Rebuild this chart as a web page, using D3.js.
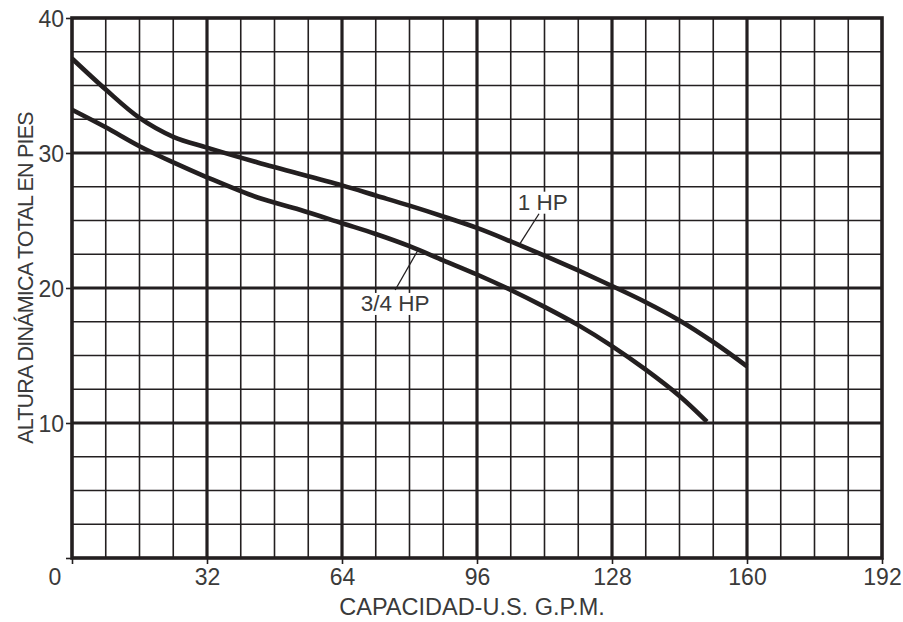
<!DOCTYPE html>
<html>
<head>
<meta charset="utf-8">
<script src="https://cdn.jsdelivr.net/npm/d3@7"></script>
<style>
html,body{margin:0;padding:0;background:#fff;}
svg{display:block;}
text{font-family:"Liberation Sans","Helvetica","Arial",sans-serif;fill:#3a3a3a;}
</style>
</head>
<body>
<svg id="chart" width="903" height="622"></svg>
<script>
// ---- data ----
const xTicks = [32, 64, 96, 128, 160, 192];
const yTicks = [10, 20, 30, 40];
const xTitle = "CAPACIDAD-U.S. G.P.M.";
const yTitle = "ALTURA DINÁMICA TOTAL EN PIES";
const seriesNames = ["1 HP", "3/4 HP"];
const hp1X = [0, 8, 16, 24, 32, 44, 64, 72, 80, 88, 96, 104, 112, 120, 128, 136, 144, 152, 160];
const hp1Y = [37.0, 34.7, 32.6, 31.2, 30.4, 29.3, 27.6, 26.85, 26.1, 25.3, 24.45, 23.45, 22.4, 21.3, 20.15, 18.95, 17.6, 16.0, 14.2];
const hp34X = [0, 8, 16, 24, 32, 44, 54, 64, 72, 80, 88, 96, 104, 112, 120, 128, 136, 144, 150.5];
const hp34Y = [33.2, 31.9, 30.5, 29.3, 28.2, 26.7, 25.8, 24.8, 24.0, 23.1, 22.05, 21.0, 19.85, 18.6, 17.25, 15.7, 13.95, 12.0, 10.1];

// ---- layout ----
const W = 903, H = 622;
const m = {left: 72, right: 21, top: 18, bottom: 64};
const svg = d3.select("#chart");
const x = d3.scaleLinear().domain([0, 192]).range([m.left, W - m.right]);
const y = d3.scaleLinear().domain([0, 40]).range([H - m.bottom, m.top]);
const ink = "#231f20";
const txtCol = "#3a3a3a";
const FONT = '"Liberation Sans",Arial,sans-serif';

const g = svg.append("g");

// minor grid
const minorX = d3.range(8, 192, 8).filter(v => v % 32 !== 0);
const minorY = d3.range(2.5, 40, 2.5).filter(v => v % 10 !== 0);
g.selectAll("line.mx").data(minorX).join("line")
  .attr("x1", d => x(d)).attr("x2", d => x(d))
  .attr("y1", y(0)).attr("y2", y(40))
  .attr("stroke", ink).attr("stroke-width", 1.6);
g.selectAll("line.my").data(minorY).join("line")
  .attr("y1", d => y(d)).attr("y2", d => y(d))
  .attr("x1", x(0)).attr("x2", x(192))
  .attr("stroke", ink).attr("stroke-width", 1.6);

// major grid
g.selectAll("line.Mx").data(xTicks.filter(v => v < 192)).join("line")
  .attr("x1", d => x(d)).attr("x2", d => x(d))
  .attr("y1", y(0)).attr("y2", y(40))
  .attr("stroke", ink).attr("stroke-width", 3.2);
g.selectAll("line.My").data(yTicks.filter(v => v < 40)).join("line")
  .attr("y1", d => y(d)).attr("y2", d => y(d))
  .attr("x1", x(0)).attr("x2", x(192))
  .attr("stroke", ink).attr("stroke-width", 3.2);

// border
g.append("rect")
  .attr("x", x(0)).attr("y", y(40))
  .attr("width", x(192) - x(0)).attr("height", y(0) - y(40))
  .attr("fill", "none").attr("stroke", ink).attr("stroke-width", 3.6);

// axes ticks via d3 axes
const xAxis = d3.axisBottom(x).tickValues([0].concat(xTicks)).tickSize(6).tickFormat(d => d === 0 ? "" : d);
const gx = svg.append("g").attr("transform", `translate(0,${y(0)})`).call(xAxis);
gx.select(".domain").remove();
gx.selectAll(".tick line").attr("stroke", ink).attr("stroke-width", 1.6);
gx.selectAll(".tick text").attr("dy", 0).attr("y", 27)
  .style("font-size", "23px").style("font-family", FONT).attr("fill", txtCol);

const yAxis = d3.axisLeft(y).tickValues([0].concat(yTicks)).tickSize(6).tickFormat(d => d === 0 ? "" : d);
const gy = svg.append("g").attr("transform", `translate(${x(0)},0)`).call(yAxis);
gy.select(".domain").remove();
gy.selectAll(".tick line").attr("stroke", ink).attr("stroke-width", 1.6);
gy.selectAll(".tick text").attr("x", -8).attr("dy", "0.36em")
  .style("font-size", "23px").style("font-family", FONT).attr("fill", txtCol);

// origin label
svg.append("text").attr("x", x(0) - 17).attr("y", y(0) + 27)
  .attr("text-anchor", "middle").style("font-size", "23px").text("0");

// curves
const line = d3.line().x(d => x(d[0])).y(d => y(d[1])).curve(d3.curveCatmullRom.alpha(0.5));
const series = [d3.zip(hp1X, hp1Y), d3.zip(hp34X, hp34Y)];
svg.selectAll("path.curve").data(series).join("path")
  .attr("d", line).attr("fill", "none").attr("stroke", ink)
  .attr("stroke-width", 4.6).attr("stroke-linecap", "butt").attr("stroke-linejoin", "round");

// annotations (data coords): text anchor, leader start, leader end
const notes = [
  {t: seriesNames[0], tx: 111.6, ty: 25.8, lx1: 110.7, ly1: 25.5, lx2: 106, ly2: 23.2},
  {t: seriesNames[1], tx: 76.6, ty: 18.3, lx1: 76.6, ly1: 19.85, lx2: 82.0, ly2: 22.8}
];
notes.forEach(n => {
  const tg = svg.append("g");
  const txt = tg.append("text").attr("x", x(n.tx)).attr("y", y(n.ty))
    .attr("text-anchor", "middle").style("font-size", "22.5px").text(n.t);
  const bb = txt.node().getBBox();
  tg.insert("rect", "text").attr("x", bb.x - 2).attr("y", bb.y + 2)
    .attr("width", bb.width + 4).attr("height", bb.height - 3).attr("fill", "#fff");
  svg.append("line").attr("x1", x(n.lx1)).attr("y1", y(n.ly1))
    .attr("x2", x(n.lx2)).attr("y2", y(n.ly2))
    .attr("stroke", ink).attr("stroke-width", 1.3);
});

// titles
svg.append("text").attr("x", 472).attr("y", 615)
  .attr("text-anchor", "middle").style("font-size", "23.5px").text(xTitle);
svg.append("text").attr("transform", `translate(33,278) rotate(-90)`)
  .attr("text-anchor", "middle").style("font-size", "21.5px")
  .style("letter-spacing", "-0.8px").text(yTitle);
</script>
</body>
</html>
